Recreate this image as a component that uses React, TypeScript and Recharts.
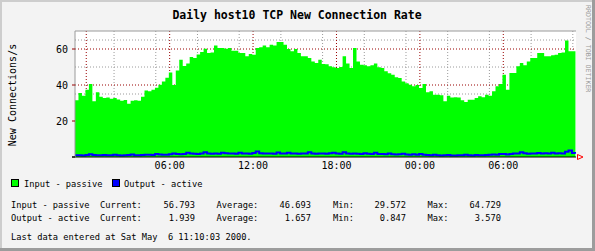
import { Area, CartesianGrid, ComposedChart, Line, ReferenceLine, XAxis, YAxis } from "recharts";

// time axis in hours, 0 = midnight of the first day
const START_HOUR = -0.81;
const END_HOUR = 35.23;
const STEP_HOURS = 0.25;

const inputPassive = [
  31.5, 35.5, 34, 37.4, 40.5, 31, 36, 33.5, 32.8, 33,
  32.4, 32.8, 32, 31.3, 31.6, 29.6, 31.3, 31.5, 31.3, 33.5,
  37, 36.5, 37.4, 38.5, 40.2, 42, 44, 47, 40, 48,
  54, 50.5, 52, 55.5, 55, 57, 58.3, 60.2, 57.8, 58,
  62, 60.5, 60.5, 60.2, 60.5, 59, 59, 57.8, 57.8, 56,
  57.2, 56.8, 60.5, 61, 62, 61, 62.4, 62, 63.9, 63.9,
  62.4, 60, 58.7, 60, 57.8, 56, 56, 55, 53, 52.2,
  54, 51.7, 51.5, 50.4, 49.8, 49.4, 50, 56, 52, 49.4,
  60.5, 53, 51.3, 51, 50.4, 51, 52, 49.8, 49.4, 47.6,
  46.5, 45.7, 44.3, 43.9, 42, 41, 40.2, 39.3, 40, 38.3,
  40.5, 36, 36.5, 34.6, 34.6, 34.3, 31, 34, 33, 33.2,
  33, 31.5, 30.5, 31.8, 31.8, 32.8, 33.7, 33.2, 34.6, 34,
  36.5, 39.3, 40.5, 45.7, 37.4, 46.7, 46.7, 50.4, 52.2, 51,
  53, 55, 55, 57.8, 57.8, 56, 56, 56.5, 56.8, 57.8,
  58, 64.7, 58.7, 58.7, 56.8,
];

const outputActive = [
  1.0, 1.0, 0.9, 1.1, 1.5, 1.1, 1.0, 1.0, 1.1, 1.0,
  1.0, 1.2, 1.0, 0.9, 1.0, 1.1, 1.4, 1.0, 1.0, 1.1,
  1.3, 1.2, 1.1, 1.6, 1.4, 1.3, 1.3, 1.5, 1.9, 1.6,
  1.5, 1.6, 2.3, 1.9, 1.8, 1.7, 1.9, 2.6, 2.0, 1.8,
  1.9, 1.8, 2.3, 2.1, 1.9, 2.0, 1.8, 2.4, 2.0, 1.9,
  1.8, 2.2, 3.0, 2.1, 2.0, 1.9, 2.0, 1.8, 2.5, 2.0,
  1.9, 2.3, 2.0, 1.9, 1.8, 2.0, 1.9, 2.6, 2.0, 1.8,
  1.9, 2.0, 1.8, 2.1, 2.4, 1.9, 1.8, 2.7, 1.9, 1.8,
  2.0, 1.8, 1.7, 2.1, 1.8, 1.6, 2.3, 1.7, 1.6, 1.5,
  1.9, 1.5, 1.4, 1.5, 1.8, 1.4, 1.3, 1.5, 1.3, 1.6,
  1.2, 1.1, 1.0, 1.2, 1.0, 0.9, 1.0, 1.1, 0.9, 0.85,
  1.0, 1.0, 1.2, 1.0, 0.9, 1.1, 1.0, 1.0, 1.1, 1.2,
  1.4, 1.3, 1.6, 1.7, 1.4, 1.6, 1.9, 2.0, 2.6, 2.1,
  1.8, 2.0, 1.9, 2.2, 2.0, 2.1, 1.9, 2.4, 2.0, 2.1,
  2.0, 2.9, 3.6, 2.2, 1.94,
];

const hourLabels = [6, 12, 18, 24, 30];
const majorHours = [0, 6, 12, 18, 24, 30];
const minorHours = [
  1, 2, 3, 4, 5, 7, 8, 9, 10, 11, 13, 14, 15, 16, 17, 19, 20, 21, 22, 23,
  25, 26, 27, 28, 29, 31, 32, 33, 34, 35,
];
const valueTicks = [0, 20, 40, 60];
const majorValues = [20, 40, 60];
const minorValues = [5, 10, 15, 25, 30, 35, 45, 50, 55, 65];

const statRows = [
  { name: "Input - passive", current: "56.793", average: "46.693", min: "29.572", max: "64.729" },
  { name: "Output - active", current: "1.939", average: "1.657", min: "0.847", max: "3.570" },
];

const data = inputPassive.map((v, i) => ({
  t: START_HOUR + i * STEP_HOURS,
  input: v,
  output: outputActive[i],
}));

const MONO = "'DejaVu Sans Mono', monospace";
const MAJOR = "#990000";
const MINOR = "#9a9a9a";

function YTick(props: any) {
  const { x, y, payload } = props;
  const v = payload.value;
  return (
    <g>
      <line x1={x + 4} x2={x + 7} y1={y} y2={y} stroke={v === 0 ? "#000" : MAJOR} />
      {v !== 0 && (
        <text x={x} y={y} dy={3.5} textAnchor="end" fontFamily={MONO} fontSize={10} fill="#000">
          {v}
        </text>
      )}
    </g>
  );
}

const fmtHour = (h: number) => String(h % 24).padStart(2, "0") + ":00";

export default function App() {
  const txt = { fontFamily: MONO, fontSize: 8.7, fill: "#000", style: { whiteSpace: "pre" as const } };
  return (
    <div style={{ position: "relative", width: 595, height: 251, background: "#f3f3f3" }}>
      <style>{"body{margin:0}"}</style>
      <ComposedChart
        width={595}
        height={251}
        data={data}
        margin={{ top: 31, right: 19, bottom: 74, left: 45 }}
      >
        <CartesianGrid
          stroke={MINOR}
          strokeDasharray="1 2"
          fill="#ffffff"
          fillOpacity={1}
          horizontalValues={minorValues}
          verticalValues={minorHours}
        />
        <CartesianGrid
          stroke={MAJOR}
          strokeDasharray="1 2"
          horizontalValues={majorValues}
          verticalValues={majorHours}
        />
        <XAxis
          dataKey="t"
          type="number"
          domain={[START_HOUR, END_HOUR]}
          ticks={hourLabels}
          tickFormatter={fmtHour}
          allowDataOverflow
          height={20}
          tickLine={false}
          tickSize={0}
          tickMargin={5}
          axisLine={{ stroke: "#000" }}
          tick={{ fontFamily: MONO, fontSize: 10, fill: "#000" }}
        />
        <YAxis
          type="number"
          domain={[0, 70]}
          ticks={valueTicks}
          allowDataOverflow
          width={30}
          tickLine={false}
          tickSize={3}
          tickMargin={4}
          axisLine={{ stroke: MINOR }}
          tick={<YTick />}
        />
        <Area
          dataKey="input"
          type="stepAfter"
          fill="#00ff00"
          fillOpacity={1}
          stroke="none"
          isAnimationActive={false}
        />
        <Line
          dataKey="output"
          type="stepAfter"
          stroke="#0000ff"
          strokeWidth={2}
          dot={false}
          isAnimationActive={false}
        />
        <ReferenceLine y={70} stroke={MINOR} />
      </ComposedChart>

      <svg width={595} height={251} style={{ position: "absolute", left: 0, top: 0, pointerEvents: "none" }}>
        <rect x={0} y={0} width={595} height={2} fill="#cdcdcd" />
        <rect x={0} y={0} width={2} height={251} fill="#cdcdcd" />
        <rect x={592} y={0} width={3} height={251} fill="#9c9c9c" />
        <rect x={0} y={248} width={595} height={3} fill="#9c9c9c" />

        <text x={297} y={19} textAnchor="middle" fontFamily={MONO} fontSize={11.5} fontWeight="bold" fill="#000">
          Daily host10 TCP New Connection Rate
        </text>
        <text
          x={16}
          y={95}
          transform="rotate(-90 16 95)"
          textAnchor="middle"
          fontFamily={MONO}
          fontSize={10}
          fill="#000"
        >
          New Connections/s
        </text>
        <text x={585.5} y={5} transform="rotate(90 585.5 5)" fontFamily={MONO} fontSize={6.6} fill="#999">
          RRDTOOL / TOBI OETIKER
        </text>

        <line x1={72} x2={75} y1={157} y2={157} stroke="#000" />
        <path d="M577.5 154.5 L583 157 L577.5 159.5 Z" fill="none" stroke="#ff0000" />

        <rect x={11.5} y={179.5} width={7} height={7} fill="#00ff00" stroke="#000" />
        <text x={24} y={187} {...txt}>Input - passive</text>
        <rect x={112.5} y={179.5} width={7} height={7} fill="#0000ff" stroke="#000" />
        <text x={124} y={187} {...txt}>Output - active</text>

        {statRows.map((r, i) => {
          const y = 208 + i * 13;
          return (
            <g key={r.name}>
              <text x={11} y={y} {...txt}>{r.name}</text>
              <text x={100} y={y} {...txt}>Current:</text>
              <text x={195} y={y} textAnchor="end" {...txt}>{r.current}</text>
              <text x={216.5} y={y} {...txt}>Average:</text>
              <text x={311} y={y} textAnchor="end" {...txt}>{r.average}</text>
              <text x={333} y={y} {...txt}>Min:</text>
              <text x={406} y={y} textAnchor="end" {...txt}>{r.min}</text>
              <text x={427.5} y={y} {...txt}>Max:</text>
              <text x={501} y={y} textAnchor="end" {...txt}>{r.max}</text>
            </g>
          );
        })}
        <text x={11} y={240} {...txt}>Last data entered at Sat May  6 11:10:03 2000.</text>
      </svg>
    </div>
  );
}
